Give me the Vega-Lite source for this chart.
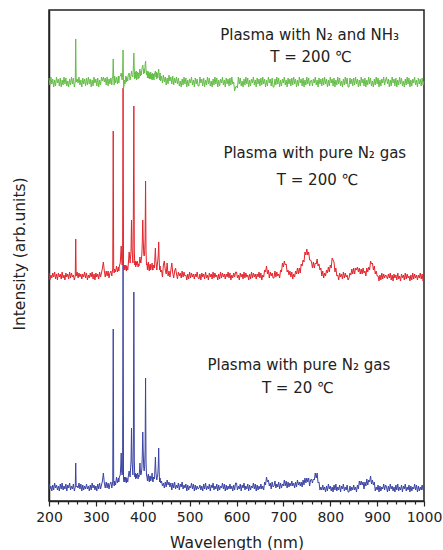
{
"$schema": "https://vega.github.io/schema/vega-lite/v6.json",
"width": 375, "height": 491,
"autosize": {"type": "none"},
"padding": {"left": 49, "top": 10, "right": 19, "bottom": 49},
"background": "white",
"config": {"view": {"stroke": "#222", "strokeWidth": 1.5}, "font": "DejaVu Sans"},
"resolve": {"axis": {"x": "independent"}},
"layer": [
{
"data": {"values": [
{"w":200,"b":17,"r":228,"g":423},{"w":202,"b":12,"r":221,"g":416},{"w":204,"b":15,"r":226,"g":424},{"w":206,"b":10,"r":223,"g":417},
{"w":208,"b":16,"r":228,"g":422},{"w":210,"b":11,"r":224,"g":414},{"w":212,"b":18,"r":229,"g":421},{"w":214,"b":13,"r":222,"g":415},
{"w":216,"b":16,"r":227,"g":424},{"w":218,"b":11,"r":221,"g":418},{"w":220,"b":15,"r":228,"g":422},{"w":222,"b":10,"r":224,"g":415},
{"w":224,"b":17,"r":227,"g":423},{"w":226,"b":12,"r":222,"g":414},{"w":228,"b":18,"r":229,"g":421},{"w":230,"b":11,"r":223,"g":416},
{"w":232,"b":15,"r":226,"g":424},{"w":234,"b":12,"r":221,"g":417},{"w":236,"b":17,"r":228,"g":423},{"w":238,"b":10,"r":224,"g":415},
{"w":240,"b":16,"r":227,"g":420},{"w":242,"b":13,"r":222,"g":414},{"w":244,"b":18,"r":229,"g":422},{"w":246,"b":11,"r":223,"g":416},
{"w":248,"b":15,"r":228,"g":424},{"w":250,"b":12,"r":224,"g":417},{"w":252,"b":17,"r":226,"g":423},{"w":254,"b":10,"r":221,"g":414},
{"w":256,"b":14,"r":225,"g":419},{"w":257,"b":38,"r":262,"g":462},{"w":258,"b":14,"r":225,"g":419},{"w":260,"b":15,"r":229,"g":422},
{"w":262,"b":13,"r":223,"g":418},{"w":264,"b":18,"r":228,"g":424},{"w":266,"b":12,"r":224,"g":416},{"w":268,"b":17,"r":227,"g":421},
{"w":270,"b":10,"r":222,"g":414},{"w":272,"b":16,"r":227,"g":423},{"w":274,"b":11,"r":224,"g":417},{"w":276,"b":15,"r":229,"g":422},
{"w":278,"b":12,"r":223,"g":415},{"w":280,"b":17,"r":228,"g":423},{"w":282,"b":12,"r":221,"g":416},{"w":284,"b":15,"r":226,"g":424},
{"w":286,"b":10,"r":223,"g":417},{"w":288,"b":16,"r":228,"g":422},{"w":290,"b":11,"r":224,"g":414},{"w":292,"b":18,"r":229,"g":421},
{"w":294,"b":13,"r":222,"g":415},{"w":296,"b":16,"r":227,"g":424},{"w":298,"b":11,"r":221,"g":418},{"w":300,"b":15,"r":228,"g":422},
{"w":302,"b":10,"r":224,"g":415},{"w":304,"b":17,"r":227,"g":423},{"w":306,"b":12,"r":222,"g":414},{"w":308,"b":18,"r":229,"g":421},
{"w":310,"b":12,"r":224,"g":416},{"w":312,"b":16,"r":228,"g":424},{"w":314,"b":20,"r":233,"g":420},
{"w":316,"b":28,"r":239,"g":424},{"w":318,"b":18,"r":230,"g":419},{"w":320,"b":13,"r":224,"g":423},{"w":322,"b":19,"r":230,"g":416},{"w":324,"b":13,"r":225,"g":424},
{"w":326,"b":18,"r":230,"g":415},{"w":328,"b":12,"r":223,"g":422},{"w":330,"b":17,"r":228,"g":417},{"w":332,"b":19,"r":230,"g":423},{"w":334,"b":13,"r":225,"g":416},{"w":335,"b":16,"r":229,"g":423},{"w":336,"b":20,"r":232,"g":424},
{"w":337,"b":172,"r":370,"g":442},{"w":338,"b":20,"r":232,"g":424},{"w":339,"b":15,"r":228,"g":416},{"w":340,"b":20,"r":232,"g":425},{"w":342,"b":16,"r":229,"g":418},
{"w":344,"b":24,"r":235,"g":424},{"w":346,"b":18,"r":229,"g":417},{"w":348,"b":23,"r":234,"g":425},{"w":349,"b":19,"r":230,"g":418},{"w":350,"b":24,"r":235,"g":424},{"w":352,"b":26,"r":238,"g":425},
{"w":353,"b":34,"r":246,"g":426},{"w":354,"b":48,"r":255,"g":428},{"w":355,"b":30,"r":242,"g":424},{"w":356,"b":26,"r":236,"g":421},
{"w":357,"b":30,"r":240,"g":426},{"w":358,"b":237,"r":413,"g":451},{"w":359,"b":22,"r":234,"g":412},{"w":360,"b":19,"r":231,"g":415},
{"w":361,"b":24,"r":236,"g":421},{"w":362,"b":19,"r":231,"g":417},{"w":364,"b":24,"r":236,"g":425},{"w":365,"b":18,"r":230,"g":419},{"w":366,"b":23,"r":235,"g":424},{"w":368,"b":19,"r":231,"g":420},{"w":369,"b":24,"r":236,"g":426},
{"w":371,"b":30,"r":249,"g":428},{"w":373,"b":24,"r":238,"g":421},{"w":375,"b":40,"r":250,"g":426},{"w":376,"b":73,"r":281,"g":430},
{"w":377,"b":40,"r":252,"g":426},{"w":379,"b":26,"r":238,"g":424},{"w":380,"b":60,"r":290,"g":435},{"w":381,"b":209,"r":395,"g":448},
{"w":382,"b":40,"r":250,"g":430},{"w":383,"b":24,"r":236,"g":422},{"w":384,"b":28,"r":240,"g":429},{"w":385,"b":22,"r":234,"g":423},{"w":386,"b":27,"r":239,"g":430},{"w":387,"b":23,"r":236,"g":421},
{"w":388,"b":27,"r":240,"g":428},{"w":389,"b":28,"r":238,"g":429},{"w":390,"b":22,"r":234,"g":422},{"w":391,"b":26,"r":237,"g":428},{"w":392,"b":24,"r":235,"g":423},{"w":393,"b":30,"r":240,"g":430},{"w":394,"b":38,"r":244,"g":432},
{"w":395,"b":30,"r":240,"g":425},{"w":396,"b":26,"r":238,"g":430},{"w":397,"b":28,"r":242,"g":426},{"w":398,"b":32,"r":246,"g":431},{"w":399,"b":45,"r":258,"g":434},{"w":400,"b":69,"r":281,"g":436},
{"w":401,"b":50,"r":262,"g":432},{"w":402,"b":34,"r":248,"g":427},{"w":403,"b":30,"r":245,"g":432},{"w":404,"b":34,"r":248,"g":428},{"w":405,"b":50,"r":262,"g":436},{"w":406,"b":123,"r":320,"g":440},
{"w":407,"b":40,"r":250,"g":432},{"w":408,"b":26,"r":236,"g":426},{"w":409,"b":24,"r":237,"g":430},{"w":410,"b":20,"r":231,"g":423},{"w":411,"b":25,"r":237,"g":430},{"w":412,"b":27,"r":239,"g":423},
{"w":413,"b":21,"r":232,"g":429},{"w":414,"b":19,"r":230,"g":422},{"w":415,"b":25,"r":236,"g":428},{"w":416,"b":25,"r":237,"g":422},{"w":417,"b":20,"r":231,"g":429},{"w":418,"b":22,"r":234,"g":422},{"w":419,"b":24,"r":235,"g":427},{"w":420,"b":28,"r":238,"g":421},
{"w":421,"b":20,"r":231,"g":428},{"w":422,"b":19,"r":231,"g":422},{"w":423,"b":24,"r":236,"g":427},{"w":424,"b":23,"r":235,"g":421},{"w":425,"b":22,"r":233,"g":427},{"w":426,"b":32,"r":244,"g":428},{"w":427,"b":44,"r":253,"g":430},
{"w":428,"b":30,"r":240,"g":424},{"w":429,"b":24,"r":236,"g":429},{"w":430,"b":21,"r":231,"g":422},{"w":431,"b":24,"r":236,"g":428},{"w":432,"b":26,"r":240,"g":423},{"w":433,"b":34,"r":246,"g":429},{"w":434,"b":53,"r":259,"g":432},
{"w":435,"b":30,"r":242,"g":426},{"w":436,"b":19,"r":231,"g":421},{"w":437,"b":23,"r":235,"g":428},{"w":438,"b":18,"r":229,"g":420},
{"w":440,"b":20,"r":231,"g":425},{"w":442,"b":15,"r":224,"g":418},{"w":444,"b":18,"r":236,"g":426},{"w":446,"b":13,"r":240,"g":419},
{"w":448,"b":19,"r":231,"g":424},{"w":450,"b":14,"r":227,"g":416},{"w":452,"b":21,"r":238,"g":423},{"w":454,"b":16,"r":225,"g":417},
{"w":456,"b":19,"r":230,"g":426},{"w":458,"b":14,"r":224,"g":420},{"w":460,"b":18,"r":231,"g":424},{"w":462,"b":11,"r":238,"g":417},
{"w":464,"b":18,"r":228,"g":425},{"w":466,"b":13,"r":223,"g":416},{"w":468,"b":19,"r":230,"g":423},{"w":470,"b":12,"r":233,"g":418},
{"w":472,"b":16,"r":227,"g":424},{"w":474,"b":13,"r":222,"g":417},{"w":476,"b":18,"r":229,"g":423},{"w":478,"b":11,"r":225,"g":415},
{"w":480,"b":17,"r":228,"g":420},{"w":482,"b":14,"r":223,"g":414},{"w":484,"b":19,"r":230,"g":422},{"w":486,"b":12,"r":224,"g":416},
{"w":488,"b":16,"r":229,"g":424},{"w":490,"b":13,"r":225,"g":417},{"w":492,"b":17,"r":226,"g":423},{"w":494,"b":10,"r":221,"g":414},
{"w":496,"b":16,"r":227,"g":421},{"w":498,"b":11,"r":222,"g":415},{"w":500,"b":15,"r":229,"g":422},{"w":502,"b":13,"r":223,"g":418},
{"w":504,"b":18,"r":228,"g":424},{"w":506,"b":12,"r":224,"g":416},{"w":508,"b":17,"r":227,"g":421},{"w":510,"b":10,"r":222,"g":414},
{"w":512,"b":16,"r":227,"g":423},{"w":514,"b":11,"r":224,"g":417},{"w":516,"b":15,"r":229,"g":422},{"w":518,"b":12,"r":223,"g":415},
{"w":520,"b":13,"r":222,"g":415},{"w":522,"b":16,"r":227,"g":424},{"w":524,"b":11,"r":221,"g":418},{"w":526,"b":15,"r":228,"g":422},
{"w":528,"b":10,"r":224,"g":415},{"w":530,"b":17,"r":227,"g":423},{"w":532,"b":12,"r":222,"g":414},{"w":534,"b":18,"r":229,"g":421},
{"w":536,"b":11,"r":223,"g":416},{"w":538,"b":15,"r":226,"g":424},{"w":540,"b":12,"r":221,"g":417},{"w":542,"b":17,"r":228,"g":423},
{"w":544,"b":10,"r":224,"g":415},{"w":546,"b":16,"r":227,"g":420},{"w":548,"b":13,"r":222,"g":414},{"w":550,"b":18,"r":229,"g":422},
{"w":552,"b":11,"r":223,"g":416},{"w":554,"b":15,"r":228,"g":424},{"w":556,"b":12,"r":224,"g":417},{"w":558,"b":17,"r":226,"g":423},
{"w":560,"b":10,"r":221,"g":414},{"w":562,"b":16,"r":227,"g":421},{"w":564,"b":11,"r":222,"g":415},{"w":566,"b":15,"r":229,"g":422},
{"w":568,"b":13,"r":223,"g":418},{"w":570,"b":18,"r":228,"g":424},{"w":572,"b":12,"r":224,"g":416},{"w":574,"b":17,"r":227,"g":421},
{"w":576,"b":10,"r":222,"g":414},{"w":578,"b":16,"r":227,"g":423},{"w":580,"b":11,"r":224,"g":417},{"w":582,"b":15,"r":229,"g":422},
{"w":584,"b":12,"r":223,"g":415},{"w":586,"b":17,"r":228,"g":423},{"w":588,"b":12,"r":221,"g":416},{"w":590,"b":15,"r":226,"g":424},
{"w":592,"b":10,"r":223,"g":417},{"w":594,"b":16,"r":228,"g":419},{"w":596,"b":11,"r":224,"g":410},{"w":598,"b":18,"r":229,"g":414},
{"w":600,"b":18,"r":229,"g":415},{"w":602,"b":11,"r":223,"g":413},{"w":604,"b":15,"r":226,"g":424},{"w":606,"b":12,"r":221,"g":417},
{"w":608,"b":17,"r":228,"g":423},{"w":610,"b":10,"r":224,"g":415},{"w":612,"b":16,"r":227,"g":420},{"w":614,"b":13,"r":222,"g":414},
{"w":616,"b":18,"r":229,"g":422},{"w":618,"b":11,"r":223,"g":416},{"w":620,"b":15,"r":228,"g":424},{"w":622,"b":12,"r":224,"g":417},
{"w":624,"b":17,"r":226,"g":423},{"w":626,"b":10,"r":221,"g":414},{"w":628,"b":16,"r":227,"g":421},{"w":630,"b":11,"r":222,"g":415},
{"w":632,"b":15,"r":229,"g":422},{"w":634,"b":13,"r":223,"g":418},{"w":636,"b":18,"r":228,"g":424},{"w":638,"b":12,"r":224,"g":416},
{"w":640,"b":17,"r":227,"g":421},{"w":642,"b":10,"r":222,"g":414},{"w":644,"b":16,"r":227,"g":423},{"w":646,"b":11,"r":224,"g":417},
{"w":648,"b":15,"r":229,"g":422},{"w":650,"b":12,"r":223,"g":415},{"w":652,"b":17,"r":228,"g":423},{"w":654,"b":12,"r":221,"g":416},
{"w":656,"b":15,"r":226,"g":424},{"w":658,"b":11,"r":224,"g":417},{"w":660,"b":19,"r":231,"g":422},{"w":662,"b":16,"r":229,"g":414},
{"w":664,"b":24,"r":235,"g":421},{"w":666,"b":19,"r":227,"g":415},{"w":668,"b":21,"r":231,"g":424},{"w":670,"b":15,"r":223,"g":418},
{"w":672,"b":18,"r":229,"g":422},{"w":674,"b":12,"r":225,"g":415},{"w":676,"b":19,"r":228,"g":423},{"w":678,"b":14,"r":223,"g":414},
{"w":680,"b":15,"r":223,"g":414},{"w":682,"b":20,"r":230,"g":422},{"w":684,"b":13,"r":224,"g":416},{"w":686,"b":17,"r":229,"g":424},
{"w":688,"b":14,"r":225,"g":417},{"w":690,"b":19,"r":227,"g":423},{"w":692,"b":12,"r":223,"g":414},{"w":694,"b":18,"r":231,"g":421},
{"w":696,"b":13,"r":229,"g":415},{"w":698,"b":17,"r":238,"g":422},{"w":700,"b":15,"r":234,"g":418},{"w":702,"b":21,"r":240,"g":424},
{"w":704,"b":15,"r":236,"g":416},{"w":706,"b":20,"r":237,"g":421},{"w":708,"b":13,"r":229,"g":414},{"w":710,"b":19,"r":231,"g":423},
{"w":712,"b":14,"r":226,"g":417},{"w":714,"b":18,"r":230,"g":422},{"w":716,"b":15,"r":224,"g":415},{"w":718,"b":20,"r":229,"g":423},
{"w":720,"b":15,"r":222,"g":416},{"w":722,"b":18,"r":227,"g":424},{"w":724,"b":13,"r":224,"g":417},{"w":726,"b":19,"r":230,"g":422},
{"w":728,"b":14,"r":227,"g":414},{"w":730,"b":21,"r":233,"g":421},{"w":732,"b":16,"r":227,"g":415},{"w":734,"b":19,"r":233,"g":424},
{"w":736,"b":15,"r":228,"g":418},{"w":738,"b":19,"r":237,"g":422},{"w":740,"b":14,"r":235,"g":415},{"w":742,"b":21,"r":241,"g":423},
{"w":744,"b":16,"r":239,"g":414},{"w":746,"b":23,"r":249,"g":421},{"w":748,"b":18,"r":246,"g":416},{"w":750,"b":23,"r":252,"g":424},
{"w":752,"b":19,"r":246,"g":417},{"w":754,"b":23,"r":249,"g":423},{"w":756,"b":15,"r":241,"g":415},{"w":758,"b":21,"r":241,"g":420},
{"w":760,"b":22,"r":239,"g":421},{"w":762,"b":18,"r":233,"g":415},{"w":764,"b":22,"r":239,"g":422},{"w":766,"b":21,"r":233,"g":418},
{"w":768,"b":28,"r":238,"g":424},{"w":770,"b":23,"r":237,"g":416},{"w":772,"b":28,"r":242,"g":421},{"w":774,"b":18,"r":235,"g":414},
{"w":776,"b":19,"r":237,"g":423},{"w":778,"b":11,"r":231,"g":417},{"w":780,"b":14,"r":233,"g":422},{"w":782,"b":11,"r":225,"g":415},
{"w":784,"b":16,"r":230,"g":423},{"w":786,"b":11,"r":223,"g":416},{"w":788,"b":14,"r":228,"g":424},{"w":790,"b":9,"r":225,"g":417},
{"w":792,"b":15,"r":231,"g":422},{"w":794,"b":10,"r":228,"g":414},{"w":796,"b":17,"r":234,"g":421},{"w":798,"b":12,"r":229,"g":415},
{"w":800,"b":15,"r":236,"g":424},{"w":802,"b":10,"r":233,"g":418},{"w":804,"b":14,"r":243,"g":422},{"w":806,"b":9,"r":241,"g":415},
{"w":808,"b":16,"r":239,"g":423},{"w":810,"b":11,"r":229,"g":414},{"w":812,"b":17,"r":233,"g":421},{"w":814,"b":10,"r":225,"g":416},
{"w":816,"b":14,"r":226,"g":424},{"w":818,"b":11,"r":221,"g":417},{"w":820,"b":16,"r":228,"g":423},{"w":822,"b":9,"r":224,"g":415},
{"w":824,"b":15,"r":227,"g":420},{"w":826,"b":12,"r":222,"g":414},{"w":828,"b":17,"r":229,"g":422},{"w":830,"b":10,"r":223,"g":416},
{"w":832,"b":14,"r":228,"g":424},{"w":834,"b":11,"r":224,"g":417},{"w":836,"b":16,"r":226,"g":423},{"w":838,"b":9,"r":221,"g":414},
{"w":840,"b":9,"r":223,"g":414},{"w":842,"b":15,"r":228,"g":423},{"w":844,"b":10,"r":226,"g":417},{"w":846,"b":14,"r":232,"g":422},
{"w":848,"b":11,"r":227,"g":415},{"w":850,"b":16,"r":233,"g":423},{"w":852,"b":11,"r":227,"g":416},{"w":854,"b":14,"r":233,"g":424},
{"w":856,"b":9,"r":231,"g":417},{"w":858,"b":16,"r":234,"g":422},{"w":860,"b":12,"r":229,"g":414},{"w":862,"b":20,"r":233,"g":421},
{"w":864,"b":16,"r":227,"g":415},{"w":866,"b":20,"r":232,"g":424},{"w":868,"b":16,"r":227,"g":418},{"w":870,"b":19,"r":233,"g":422},
{"w":872,"b":12,"r":228,"g":415},{"w":874,"b":19,"r":230,"g":423},{"w":876,"b":15,"r":225,"g":414},{"w":878,"b":22,"r":233,"g":421},
{"w":880,"b":16,"r":229,"g":416},{"w":882,"b":21,"r":234,"g":424},{"w":884,"b":19,"r":231,"g":417},{"w":886,"b":25,"r":240,"g":423},
{"w":888,"b":17,"r":237,"g":415},{"w":890,"b":21,"r":238,"g":420},{"w":892,"b":16,"r":231,"g":414},{"w":894,"b":19,"r":235,"g":422},
{"w":896,"b":10,"r":227,"g":416},{"w":898,"b":14,"r":230,"g":424},{"w":900,"b":11,"r":225,"g":417},{"w":902,"b":16,"r":225,"g":423},
{"w":904,"b":9,"r":220,"g":414},{"w":906,"b":15,"r":226,"g":421},{"w":908,"b":10,"r":221,"g":415},{"w":910,"b":14,"r":228,"g":422},
{"w":912,"b":12,"r":222,"g":418},{"w":914,"b":17,"r":227,"g":424},{"w":916,"b":11,"r":223,"g":416},{"w":918,"b":16,"r":226,"g":421},
{"w":920,"b":14,"r":225,"g":424},{"w":922,"b":9,"r":222,"g":417},{"w":924,"b":15,"r":227,"g":422},{"w":926,"b":10,"r":223,"g":414},
{"w":928,"b":17,"r":228,"g":421},{"w":930,"b":12,"r":221,"g":415},{"w":932,"b":15,"r":226,"g":424},{"w":934,"b":10,"r":220,"g":418},
{"w":936,"b":14,"r":227,"g":422},{"w":938,"b":9,"r":223,"g":415},{"w":940,"b":16,"r":226,"g":423},{"w":942,"b":11,"r":221,"g":414},
{"w":944,"b":17,"r":228,"g":421},{"w":946,"b":10,"r":222,"g":416},{"w":948,"b":14,"r":225,"g":424},{"w":950,"b":11,"r":220,"g":417},
{"w":952,"b":16,"r":227,"g":423},{"w":954,"b":9,"r":223,"g":415},{"w":956,"b":15,"r":226,"g":420},{"w":958,"b":12,"r":221,"g":414},
{"w":960,"b":17,"r":228,"g":422},{"w":962,"b":10,"r":222,"g":416},{"w":964,"b":14,"r":227,"g":424},{"w":966,"b":11,"r":223,"g":417},
{"w":968,"b":16,"r":225,"g":423},{"w":970,"b":9,"r":220,"g":414},{"w":972,"b":15,"r":226,"g":421},{"w":974,"b":10,"r":221,"g":415},
{"w":976,"b":14,"r":228,"g":422},{"w":978,"b":12,"r":222,"g":418},{"w":980,"b":17,"r":227,"g":424},{"w":982,"b":11,"r":223,"g":416},
{"w":984,"b":16,"r":226,"g":421},{"w":986,"b":9,"r":221,"g":414},{"w":988,"b":15,"r":226,"g":423},{"w":990,"b":10,"r":223,"g":417},
{"w":992,"b":14,"r":228,"g":422},{"w":994,"b":11,"r":222,"g":415},{"w":996,"b":16,"r":227,"g":423},{"w":998,"b":11,"r":220,"g":416},
{"w":1000,"b":13,"r":224,"g":420}
]},
"transform": [{"fold": ["b", "r", "g"], "as": ["s", "v"]}],
"mark": {"type": "line", "strokeWidth": 1},
"encoding": {
"x": {"field": "w", "type": "quantitative",
"scale": {"domain": [200, 1000], "nice": false, "zero": false},
"axis": {"orient": "bottom", "values": [200,300,400,500,600,700,800,900,1000],
"format": "d", "labelOverlap": false, "labelFlush": false, "labelFontSize": 14, "labelColor": "#222",
"labelBaseline": "alphabetic", "labelPadding": 15,
"tickSize": 5, "tickColor": "#222", "tickWidth": 1.2,
"domainColor": "#222", "domainWidth": 1.5, "grid": false,
"title": "Wavelength (nm)", "titleFontSize": 15.5, "titleFontWeight": "normal", "titleColor": "#222",
"titleBaseline": "alphabetic", "titleY": 46, "titleX": 187.5}},
"y": {"field": "v", "type": "quantitative",
"scale": {"domain": [0, 491], "nice": false, "zero": false},
"axis": {"title": "Intensity (arb.units)", "ticks": false, "labels": false, "grid": false,
"domainColor": "#222", "domainWidth": 1.5,
"titleFontSize": 15.5, "titleFontWeight": "normal", "titleColor": "#222",
"titleX": -30, "titleY": 243.5, "titleAlign": "center", "titleBaseline": "middle"}},
"color": {"field": "s", "type": "nominal",
"scale": {"domain": ["b", "r", "g"], "range": ["#3a43a3", "#e3232b", "#63bd46"]}, "legend": null}
}
},
{
"data": {"values": [
{"w": 756, "v": 466, "t": "Plasma with  N₂ and NH₃"},
{"w": 759, "v": 444, "t": "T = 200 ℃"},
{"w": 767, "v": 348, "t": "Plasma with pure N₂ gas"},
{"w": 773, "v": 321, "t": "T = 200 ℃"},
{"w": 733, "v": 136, "t": "Plasma with pure N₂ gas"},
{"w": 731, "v": 113, "t": "T = 20 ℃"}
]},
"mark": {"type": "text", "fontSize": 15, "align": "center", "baseline": "middle", "color": "#222", "font": "DejaVu Sans"},
"encoding": {
"x": {"field": "w", "type": "quantitative",
"axis": {"orient": "bottom", "values": [220,240,260,280,320,340,360,380,420,440,460,480,520,540,560,580,620,640,660,680,720,740,760,780,820,840,860,880,920,940,960,980],
"labels": false, "domain": false, "grid": false, "title": null,
"tickSize": 3, "tickColor": "#222", "tickWidth": 1.2}},
"y": {"field": "v", "type": "quantitative"},
"text": {"field": "t", "type": "nominal"}
}
}
]
}
